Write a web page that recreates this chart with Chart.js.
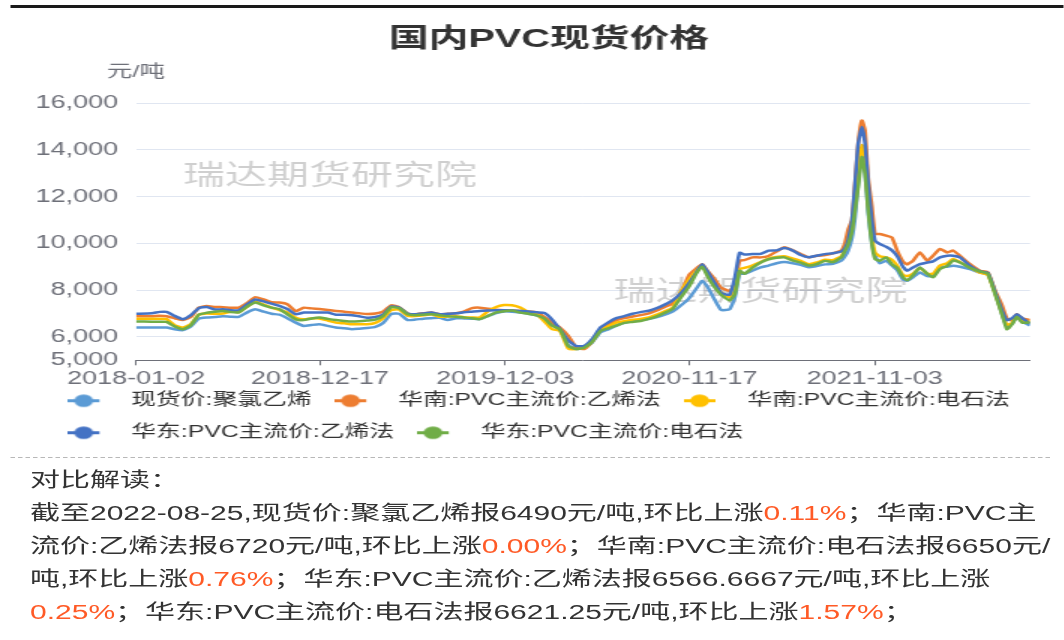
<!DOCTYPE html>
<html>
<head>
<meta charset="utf-8">
<title>国内PVC现货价格</title>
<script src="https://cdn.jsdelivr.net/npm/chart.js@4.4.1/dist/chart.umd.min.js"></script>
<style>
  html, body { margin: 0; padding: 0; background: #fff; overflow: hidden; }
  body { width: 1064px; height: 640px; }
  /* the reference is a horizontally stretched screenshot, so draw narrow and stretch */
  #stage {
    position: relative; width: 709px; height: 640px;
    transform: scaleX(1.5); transform-origin: 0 0;
    font-family: 'Liberation Sans', 'Noto Sans CJK SC', sans-serif;
  }
  .top-rule { position: absolute; left: 7px; top: 5px; width: 702px; height: 3px; background: #1a1a1a; }
  #chartBox { position: absolute; left: 0; top: 0; width: 702px; height: 451px; }
  .dash-rule { position: absolute; left: 7px; top: 457px; width: 693px; border-top: 1px dashed #b8b8b8; }
  .note { position: absolute; left: 20px; top: 464px; width: 682px; font-size: 20px; line-height: 33px; color: #333; }
  .note .up { color: #ff5a26; }
</style>
</head>
<body>
<div id="stage">
  <div class="top-rule"></div>
  <div id="chartBox"><canvas id="pvcChart"></canvas></div>
  <div class="dash-rule"></div>
  <div class="note">
    <div>对比解读：</div>
    <div>截至2022-08-25,现货价:聚氯乙烯报6490元/吨,环比上涨<span class="up">0.11%</span>；华南:PVC主流价:乙烯法报6720元/吨,环比上涨<span class="up">0.00%</span>；华南:PVC主流价:电石法报6650元/吨,环比上涨<span class="up">0.76%</span>；华东:PVC主流价:乙烯法报6566.6667元/吨,环比上涨<span class="up">0.25%</span>；华东:PVC主流价:电石法报6621.25元/吨,环比上涨<span class="up">1.57%</span>；</div>
  </div>
</div>
<script>
const TITLE = '国内PVC现货价格';
const UNIT = '元/吨';
const WATERMARK = '瑞达期货研究院';

const DATES = [
  '2018-01-02', '2018-02-01', '2018-02-16', '2018-03-01', '2018-03-16', '2018-04-01', '2018-04-16', '2018-05-01',
  '2018-05-16', '2018-06-01', '2018-06-16', '2018-07-01', '2018-07-16', '2018-08-01', '2018-08-16', '2018-09-01',
  '2018-09-16', '2018-10-01', '2018-10-16', '2018-11-01', '2018-11-16', '2018-12-01', '2018-12-16', '2019-01-01',
  '2019-01-16', '2019-02-01', '2019-02-16', '2019-03-01', '2019-03-16', '2019-04-01', '2019-04-16', '2019-05-01',
  '2019-05-16', '2019-06-01', '2019-06-16', '2019-07-01', '2019-07-16', '2019-08-01', '2019-08-16', '2019-09-01',
  '2019-09-16', '2019-10-01', '2019-10-16', '2019-11-01', '2019-11-16', '2019-12-01', '2019-12-16', '2020-01-01',
  '2020-01-16', '2020-02-01', '2020-02-16', '2020-03-01', '2020-03-16', '2020-04-01', '2020-04-16', '2020-05-01',
  '2020-05-16', '2020-06-01', '2020-06-16', '2020-07-01', '2020-07-16', '2020-08-01', '2020-08-16', '2020-09-01',
  '2020-09-16', '2020-10-01', '2020-10-16', '2020-11-01', '2020-11-16', '2020-12-01', '2020-12-11', '2020-12-22',
  '2021-01-01', '2021-01-16', '2021-02-01', '2021-02-11', '2021-02-20', '2021-03-01', '2021-03-16', '2021-04-01',
  '2021-04-16', '2021-05-01', '2021-05-16', '2021-06-01', '2021-06-16', '2021-07-01', '2021-07-16', '2021-08-01',
  '2021-08-16', '2021-09-01', '2021-09-08', '2021-09-14', '2021-09-21', '2021-09-27', '2021-10-03', '2021-10-10',
  '2021-10-16', '2021-10-22', '2021-10-29', '2021-11-04', '2021-11-13', '2021-11-25', '2021-12-06', '2021-12-16',
  '2021-12-27', '2022-01-04', '2022-01-15', '2022-01-28', '2022-02-11', '2022-02-22', '2022-03-07', '2022-03-21',
  '2022-04-01', '2022-04-14', '2022-05-03', '2022-05-22', '2022-06-06', '2022-06-20', '2022-07-03', '2022-07-12',
  '2022-07-22', '2022-07-31', '2022-08-10', '2022-08-25',
];

// 现货价:聚氯乙烯
const SPOT_PVC = [
  6400, 6400, 6400, 6400, 6330, 6290, 6450, 6780, 6830, 6850, 6880, 6860, 6860, 7050, 7180, 7080,
  6990, 6950, 6800, 6610, 6470, 6510, 6540, 6470, 6400, 6370, 6330, 6350, 6380, 6430, 6600, 6980,
  6990, 6720, 6740, 6780, 6800, 6820, 6720, 6800, 6790, 6780, 6760, 6900, 7020, 7090, 7080, 7040,
  6990, 6920, 6780, 6560, 6330, 5650, 5480, 5540, 5750, 6200, 6320, 6480, 6600, 6670, 6710, 6770,
  6850, 6950, 7080, 7350, 7650, 8100, 8400, 8110, 7700, 7150, 7180, 7680, 8690, 8700, 8830, 8970,
  9050, 9150, 9200, 9150, 9080, 8980, 9030, 9100, 9130, 9260, 9450, 9690, 10200, 11100, 12600, 13800,
  13000, 11300, 10000, 9500, 9150, 9250, 9050, 8850, 8450, 8400, 8550, 8750, 8600, 8600, 8970, 9000,
  9040, 9000, 8900, 8750, 8680, 7900, 6950, 6470, 6560, 6860, 6650, 6490,
];
// 华南:PVC主流价:乙烯法
const SOUTH_ETHYLENE = [
  6880, 6880, 6900, 6880, 6800, 6720, 6850, 7250, 7320, 7280, 7270, 7250, 7250, 7450, 7700, 7600,
  7480, 7470, 7400, 7100, 7250, 7220, 7190, 7150, 7110, 7080, 7040, 7010, 6980, 7000, 7090, 7350,
  7270, 7000, 6970, 7010, 7040, 6970, 6990, 7010, 7080, 7230, 7250, 7200, 7160, 7140, 7130, 7110,
  7090, 7050, 6850, 6620, 6400, 6050, 5550, 5480, 5800, 6350, 6540, 6710, 6810, 6870, 6930, 7010,
  7130, 7280, 7430, 7900, 8650, 8950, 9110, 8800, 8550, 8100, 7970, 8260, 9260, 9280, 9400, 9400,
  9460, 9650, 9830, 9700, 9540, 9400, 9470, 9500, 9570, 9690, 10040, 10600, 11000, 12600, 14300, 15250,
  14830, 12800, 11600, 10400, 10400, 10330, 10250, 9690, 9220, 9100, 9260, 9610, 9260, 9470, 9760, 9610,
  9690, 9470, 9110, 8830, 8760, 7970, 7350, 6800, 6700, 6970, 6800, 6720,
];
// 华南:PVC主流价:电石法
const SOUTH_CARBIDE = [
  6780, 6780, 6780, 6760, 6500, 6400, 6550, 6950, 7000, 6990, 7000, 7080, 7060, 7300, 7500, 7380,
  7250, 7150, 7040, 6820, 6750, 6790, 6790, 6700, 6610, 6580, 6540, 6540, 6540, 6600, 6800, 7150,
  7170, 6900, 6890, 6920, 6970, 6860, 6870, 6880, 6840, 6830, 6830, 7100, 7280, 7360, 7350, 7250,
  7070, 6980, 6650, 6330, 6260, 5500, 5480, 5540, 5800, 6300, 6460, 6610, 6670, 6730, 6770, 6830,
  6950, 7090, 7250, 7950, 8450, 8850, 9040, 8650, 8300, 7900, 7690, 7970, 8900, 8950, 9050, 9200,
  9350, 9420, 9450, 9350, 9250, 9110, 9180, 9300, 9280, 9450, 9750, 10100, 10600, 11900, 13300, 14200,
  13400, 11700, 10300, 9610, 9450, 9400, 9300, 9050, 8650, 8600, 8700, 8950, 8700, 8700, 9050, 9150,
  9330, 9200, 8970, 8750, 8650, 7850, 7000, 6510, 6600, 6900, 6700, 6650,
];
// 华东:PVC主流价:乙烯法
const EAST_ETHYLENE = [
  6990, 7015, 7070, 7070, 6900, 6760, 6930, 7230, 7280, 7170, 7180, 7140, 7140, 7400, 7600, 7520,
  7420, 7330, 7190, 6970, 7040, 7040, 7040, 7040, 6950, 6950, 6930, 6880, 6820, 6850, 6960, 7300,
  7260, 7000, 6970, 7000, 7040, 6970, 6990, 7010, 7050, 7080, 7110, 7130, 7140, 7140, 7130, 7110,
  7090, 7050, 7020, 6750, 6330, 5850, 5610, 5610, 5900, 6400, 6620, 6800, 6890, 6990, 7060, 7120,
  7230, 7380, 7560, 7880, 8300, 8800, 9110, 8760, 8400, 7880, 7800, 8540, 9600, 9520, 9540, 9550,
  9690, 9700, 9800, 9690, 9500, 9410, 9470, 9540, 9580, 9650, 9800, 10150, 10970, 12540, 14250, 14970,
  14250, 12540, 10970, 10110, 9970, 9850, 9700, 9450, 9000, 8830, 8970, 9110, 9180, 9230, 9400, 9470,
  9470, 9400, 9040, 8800, 8740, 7900, 7110, 6710, 6800, 6970, 6800, 6567,
];
// 华东:PVC主流价:电石法
const EAST_CARBIDE = [
  6660, 6650, 6650, 6640, 6450, 6330, 6500, 6950, 7030, 7080, 7110, 7060, 7050, 7300, 7470, 7350,
  7250, 7190, 6970, 6750, 6720, 6790, 6830, 6770, 6720, 6680, 6655, 6670, 6700, 6740, 6900, 7270,
  7230, 6970, 6930, 6950, 6970, 6930, 6880, 6860, 6830, 6800, 6760, 6900, 7050, 7100, 7130, 7040,
  6990, 6920, 6780, 6480, 6330, 5600, 5480, 5540, 5780, 6250, 6370, 6480, 6600, 6640, 6680, 6770,
  6880, 7030, 7200, 7700, 8150, 8750, 9000, 8550, 8200, 7800, 7560, 7830, 8830, 8700, 8950, 9180,
  9320, 9380, 9400, 9260, 9180, 9050, 9110, 9250, 9200, 9400, 9690, 9950, 10500, 11400, 12400, 13690,
  12970, 11400, 9970, 9330, 9260, 9400, 9110, 8950, 8550, 8420, 8640, 8970, 8700, 8550, 8900, 9040,
  9260, 9180, 8950, 8800, 8700, 7800, 6950, 6330, 6540, 6860, 6610, 6621,
];

const SERIES_NAMES = ['现货价:聚氯乙烯', '华南:PVC主流价:乙烯法', '华南:PVC主流价:电石法', '华东:PVC主流价:乙烯法', '华东:PVC主流价:电石法'];
const SERIES_COLORS = ['#5B9BD5', '#ED7D31', '#FFC000', '#4472C4', '#70AD47'];
const X_TICK_LABELS = ['2018-01-02', '2018-12-17', '2019-12-03', '2020-11-17', '2021-11-03'];
const Y_TICKS = [5000, 6000, 8000, 10000, 12000, 14000, 16000];

const FONT_FAMILY = "'Liberation Sans', 'Noto Sans CJK SC', sans-serif";
const AXIS_COLOR = '#6E7079';

Chart.defaults.font.family = FONT_FAMILY;
Chart.defaults.color = AXIS_COLOR;

const dayOf = d => (Date.parse(d) - Date.parse(DATES[0])) / 864e5;

// legend marker: short line with a dot, drawn to the left of a wider box
function legendMarker(color) {
  const c = document.createElement('canvas');
  c.width = 34;
  c.height = 15;
  const g = c.getContext('2d');
  g.strokeStyle = color;
  g.lineWidth = 3;
  g.beginPath();
  g.moveTo(0, 7.5);
  g.lineTo(21, 7.5);
  g.stroke();
  g.fillStyle = color;
  g.beginPath();
  g.arc(10.5, 7.5, 6.3, 0, Math.PI * 2);
  g.fill();
  return c;
}

const unitLabel = {
  id: 'unitLabel',
  afterDraw(chart) {
    const { ctx, chartArea } = chart;
    ctx.save();
    ctx.font = '17px ' + FONT_FAMILY;
    ctx.fillStyle = AXIS_COLOR;
    ctx.textAlign = 'center';
    ctx.textBaseline = 'middle';
    ctx.fillText(UNIT, chartArea.left, chartArea.top - 31);
    ctx.restore();
  },
};

const watermark = {
  id: 'watermark',
  beforeDatasetsDraw(chart) {
    const { ctx } = chart;
    ctx.save();
    ctx.font = '28px ' + FONT_FAMILY;
    ctx.fillStyle = 'rgba(0,0,0,0.19)';
    ctx.textAlign = 'left';
    ctx.textBaseline = 'middle';
    ctx.fillText(WATERMARK, 122, 177);
    ctx.fillText(WATERMARK, 409, 293);
    ctx.restore();
  },
};

// axis boxes are squeezed to place the legend; let tick labels spill out instead of clipping
const labelRoom = {
  id: 'labelRoom',
  afterLayout(chart) {
    const { x, y } = chart.scales;
    x.bottom = x.top + 32;
    y.left = 0;
  },
};

const allSeries = [SPOT_PVC, SOUTH_ETHYLENE, SOUTH_CARBIDE, EAST_ETHYLENE, EAST_CARBIDE];

const datasets = allSeries.map((values, i) => ({
  label: SERIES_NAMES[i],
  data: values.map((v, j) => ({ x: dayOf(DATES[j]), y: v })),
  borderColor: SERIES_COLORS[i],
  backgroundColor: SERIES_COLORS[i],
  borderWidth: 2.5,
  pointRadius: 0,
  pointHoverRadius: 0,
  pointStyle: legendMarker(SERIES_COLORS[i]),
  tension: 0.15,
  order: allSeries.length - i,
}));

new Chart(document.getElementById('pvcChart'), {
  type: 'line',
  data: { datasets },
  plugins: [unitLabel, watermark, labelRoom],
  options: {
    responsive: true,
    maintainAspectRatio: false,
    animation: false,
    events: [],
    layout: { padding: { left: 29.8, right: 0, top: 0, bottom: 0 } },
    plugins: {
      title: {
        display: true,
        text: TITLE,
        color: '#333',
        font: { size: 26.5, weight: 'bold' },
        padding: { top: 24.1, bottom: 47.1 },
      },
      legend: {
        position: 'bottom',
        align: 'start',
        labels: {
          usePointStyle: true,
          pointStyleWidth: 34,
          padding: 15.5,
          color: '#333',
          font: { size: 16.5 },
          sort: (a, b) => a.datasetIndex - b.datasetIndex,
        },
      },
      tooltip: { enabled: false },
    },
    scales: {
      x: {
        type: 'linear',
        min: 0,
        max: dayOf(DATES[DATES.length - 1]),
        afterBuildTicks: axis => { axis.ticks = X_TICK_LABELS.map(d => ({ value: dayOf(d) })); },
        afterFit: axis => { axis.height = 16.7; },
        grid: { drawOnChartArea: false, drawTicks: true, tickLength: 5, color: AXIS_COLOR },
        border: { color: AXIS_COLOR, width: 1 },
        ticks: {
          color: AXIS_COLOR,
          font: { size: 18 },
          padding: 3,
          maxRotation: 0,
          autoSkip: false,
          callback: (v, i) => X_TICK_LABELS[i],
        },
      },
      y: {
        min: 5000,
        max: 16000,
        afterBuildTicks: axis => { axis.ticks = Y_TICKS.map(v => ({ value: v })); },
        afterFit: axis => { axis.width = 60.9; },
        grid: { color: '#E0E6F1', drawTicks: false },
        border: { display: false },
        ticks: { color: AXIS_COLOR, font: { size: 18 }, padding: 12 },
      },
      // empty right axis keeps the plot narrower than the legend row
      yRight: {
        position: 'right',
        afterFit: axis => { axis.width = 15.3; },
        grid: { display: false },
        border: { display: false },
        ticks: { display: false },
      },
    },
  },
});
</script>
</body>
</html>
